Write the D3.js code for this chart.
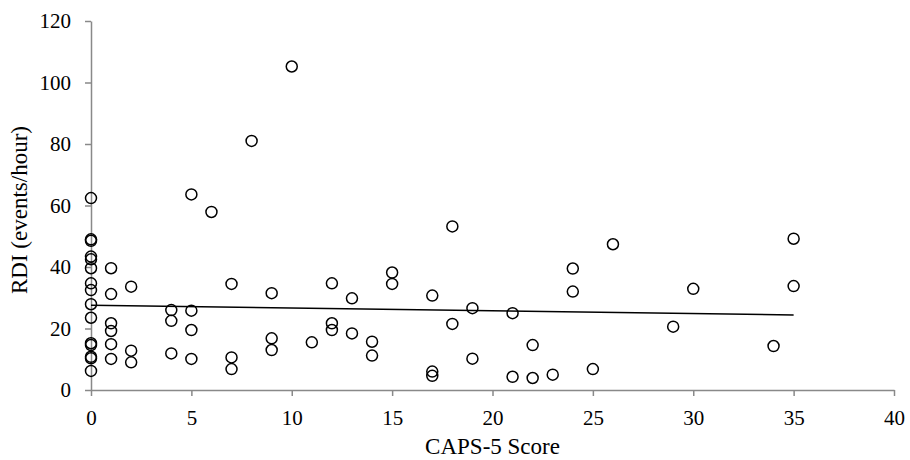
<!DOCTYPE html>
<html>
<head>
<meta charset="utf-8">
<script src="https://cdn.jsdelivr.net/npm/d3@7"></script>
<style>
  body { margin: 0; background: #fff; }
  svg text { font-family: "Liberation Serif", "Times New Roman", serif; fill: #000; }
</style>
</head>
<body>
<div id="chart"></div>
<script>
// CAPS-5 score vs RDI
const capsScores = [
    0, 0, 0, 0, 0, 0, 0, 0, 0, 0, 0, 0, 0, 0, 0,
    1, 1, 1, 1, 1, 1,
    2, 2, 2,
    4, 4, 4,
    5, 5, 5, 5,
    6,
    7, 7, 7,
    8,
    9, 9, 9,
    10,
    11,
    12, 12, 12,
    13, 13,
    14, 14,
    15, 15,
    17, 17, 17,
    18, 18,
    19, 19,
    21, 21,
    22, 22,
    23,
    24, 24,
    25,
    26,
    29,
    30,
    34,
    35, 35
];
const rdiValues = [
    62.4, 49.0, 48.5, 43.4, 42.5, 39.6, 34.7, 32.5, 27.9, 23.5, 15.2, 14.6, 10.8, 10.3, 6.2,
    39.6, 31.2, 21.7, 19.2, 14.9, 10.1,
    33.6, 12.8, 9.0,
    26.0, 22.5, 11.9,
    63.6, 25.8, 19.5, 10.1,
    57.9,
    34.5, 10.6, 6.8,
    81.0,
    31.5, 16.8, 13.0,
    105.2,
    15.5,
    34.7, 21.7, 19.5,
    29.8, 18.4,
    15.7, 11.2,
    38.2, 34.5,
    30.7, 6.0, 4.6,
    53.2, 21.5,
    26.6, 10.2,
    25.0, 4.3,
    14.6, 3.9,
    5.0,
    39.5, 32.0,
    6.8,
    47.4,
    20.6,
    32.9,
    14.3,
    49.2, 33.8
];
// linear trend line endpoints (x, y)
const trendX = [0, 35];
const trendY = [27.6, 24.4];

const xTicks = [0, 5, 10, 15, 20, 25, 30, 35, 40];
const yTicks = [0, 20, 40, 60, 80, 100, 120];

const width = 910, height = 460;
const margin = { top: 21, right: 16, bottom: 70, left: 91 };

const svg = d3.select('#chart')
    .append('svg')
    .attr('width', width)
    .attr('height', height);

const x = d3.scaleLinear()
    .domain([0, 40])
    .range([margin.left, width - margin.right]);

const y = d3.scaleLinear()
    .domain([0, 120])
    .range([height - margin.bottom, margin.top]);

const axisColor = '#898989';

// x axis
const gx = svg.append('g')
    .attr('transform', `translate(0,${y(0)})`)
    .call(d3.axisBottom(x).tickValues(xTicks).tickSize(6).tickPadding(14).tickSizeOuter(0));
gx.select('.domain').attr('stroke', axisColor).attr('stroke-width', 1.5);
gx.selectAll('.tick line').attr('stroke', axisColor).attr('stroke-width', 1.5);
gx.selectAll('.tick text').attr('font-size', '21px').attr('font-family', '"Liberation Serif", serif');

// y axis
const gy = svg.append('g')
    .attr('transform', `translate(${x(0)},0)`)
    .call(d3.axisLeft(y).tickValues(yTicks).tickSize(6).tickPadding(14).tickSizeOuter(0));
gy.select('.domain').attr('stroke', axisColor).attr('stroke-width', 1.5);
gy.selectAll('.tick line').attr('stroke', axisColor).attr('stroke-width', 1.5);
gy.selectAll('.tick text').attr('font-size', '21px').attr('font-family', '"Liberation Serif", serif');

// axis titles
svg.append('text')
    .attr('x', (x(0) + x(40)) / 2)
    .attr('y', 454)
    .attr('text-anchor', 'middle')
    .attr('font-size', '23px')
    .text('CAPS-5 Score');

svg.append('text')
    .attr('transform', `translate(27,210) rotate(-90)`)
    .attr('text-anchor', 'middle')
    .attr('font-size', '23px')
    .text('RDI (events/hour)');

// trend line
const line = d3.line()
    .x(d => x(d[0]))
    .y(d => y(d[1]));

svg.append('path')
    .datum(d3.zip(trendX, trendY))
    .attr('d', line)
    .attr('fill', 'none')
    .attr('stroke', '#000')
    .attr('stroke-width', 1.5);

// points
svg.append('g')
    .selectAll('circle')
    .data(d3.zip(capsScores, rdiValues))
    .enter()
    .append('circle')
    .attr('cx', d => x(d[0]))
    .attr('cy', d => y(d[1]))
    .attr('r', 5.5)
    .attr('fill', 'none')
    .attr('stroke', '#000')
    .attr('stroke-width', 1.5);
</script>
</body>
</html>
